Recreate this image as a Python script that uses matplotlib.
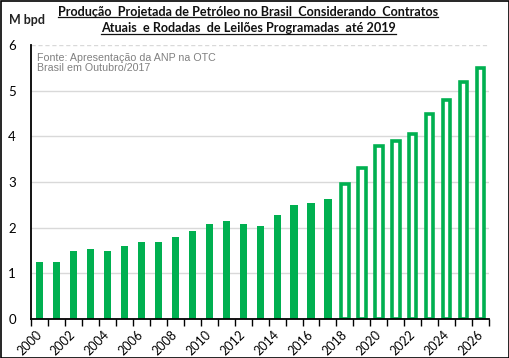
import matplotlib
matplotlib.use("Agg")
import matplotlib.pyplot as plt
from matplotlib.lines import Line2D
import numpy as np

years = list(range(2000, 2027))
values = [1.25, 1.25, 1.49, 1.53, 1.49, 1.60, 1.68, 1.68, 1.79, 1.93,
          2.09, 2.14, 2.09, 2.04, 2.28, 2.50, 2.54, 2.63,
          2.95, 3.31, 3.78, 3.90, 4.05, 4.49, 4.80, 5.19, 5.50]
first_projected = 2018
tick_labels = [str(y) if y % 2 == 0 else "" for y in years]

green = "#00B050"
fig = plt.figure(figsize=(5.10, 3.58), dpi=100)
fig.patch.set_facecolor("white")
ax = fig.add_axes([0.061, 0.109, 0.898, 0.765])

x = np.arange(len(years))
for xi, y, v in zip(x, years, values):
    if y < first_projected:
        ax.bar(xi, v, width=0.42, color=green, edgecolor="none", zorder=3)
    else:
        ax.bar(xi, v, width=0.44, facecolor="white", edgecolor=green, linewidth=2.6, zorder=3)

ax.set_xlim(-0.5, len(years) - 0.5)
ax.set_ylim(0, 6)
ax.set_yticks([0, 1, 2, 3, 4, 5, 6])
for yv in [1, 2, 3, 4, 5]:
    ax.axhline(yv, color="#D9D9D9", linewidth=1.0, zorder=1)
ax.axhline(6, color="#D9D9D9", linewidth=1.0, linestyle=(0, (3, 2)), zorder=1)

ax.set_xticks(x)
ax.set_xticklabels(tick_labels, rotation=45, ha="right", va="center",
                   rotation_mode="anchor", fontsize=9, family="Lato")
ax.set_xticks(np.arange(-0.5, len(years), 1.0), minor=True)
ax.tick_params(axis="x", which="major", length=0, pad=10)
ax.tick_params(axis="x", which="minor", length=5, width=1.0, direction="out", color="black")
ax.tick_params(axis="y", length=0, pad=11, labelsize=9.5)
for lab in ax.get_yticklabels():
    lab.set_family("Lato")

for s in ["top", "right"]:
    ax.spines[s].set_visible(False)
ax.spines["left"].set_linewidth(1.3)
ax.spines["bottom"].set_linewidth(1.3)
ax.spines["left"].set_zorder(4)
ax.spines["bottom"].set_zorder(4)

t1 = fig.text(0.487, 0.966, "Produção  Projetada de Petróleo no Brasil  Considerando  Contratos",
              ha="center", va="center", fontsize=9.1, fontweight="bold", family="Lato", color="#111111")
t2 = fig.text(0.487, 0.921, "Atuais  e Rodadas  de Leilões Programadas  até 2019",
              ha="center", va="center", fontsize=9.1, fontweight="bold", family="Lato", color="#111111")
fig.text(0.018, 0.944, "M bpd", ha="left", va="center", fontsize=9, fontweight="bold",
         family="Lato", color="#222222")

fig.text(0.072, 0.824, "Fonte: Apresentação da ANP na OTC\nBrasil em Outubro/2017",
         ha="left", va="center", fontsize=7.7, family="Liberation Sans", color="#808080",
         linespacing=1.05)

fig.canvas.draw()
r = fig.canvas.get_renderer()
for t in (t1, t2):
    bb = t.get_window_extent(r).transformed(fig.transFigure.inverted())
    yline = bb.y0 + 0.002
    fig.add_artist(Line2D([bb.x0, bb.x1], [yline, yline], transform=fig.transFigure,
                          color="#111111", linewidth=0.9))

fig.add_artist(plt.Rectangle((0.001, 0.001), 0.997, 0.996, transform=fig.transFigure,
                             fill=False, edgecolor="black", linewidth=1.2))

fig.savefig("out.png", dpi=100, facecolor="white")
